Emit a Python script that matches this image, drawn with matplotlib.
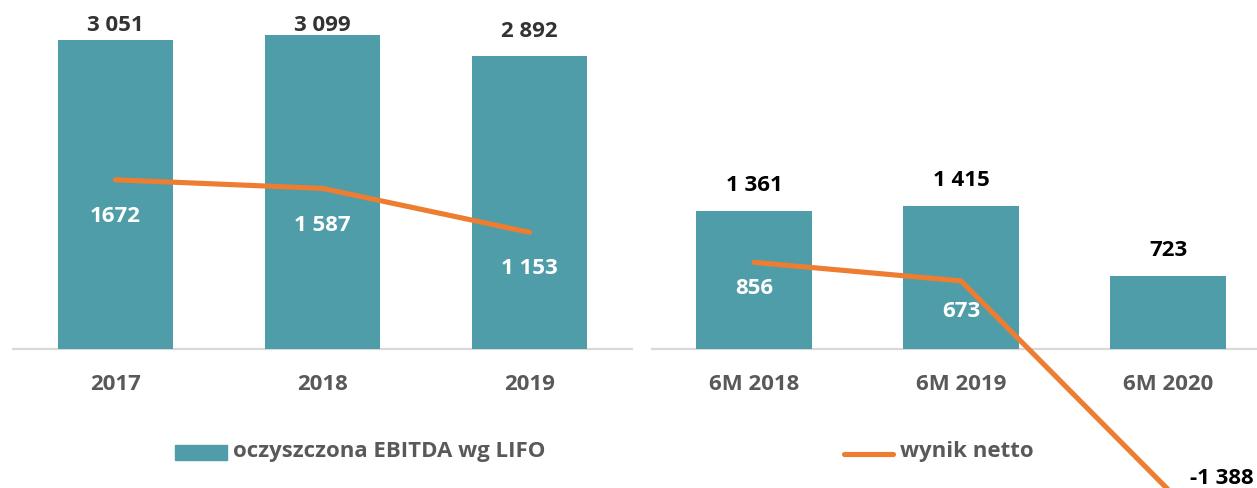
import matplotlib
matplotlib.use("Agg")
import matplotlib.pyplot as plt
from matplotlib.patches import Rectangle
from matplotlib.lines import Line2D

# ---------------- data ----------------
years = ["2017", "2018", "2019"]
ebitda_annual = [3051, 3099, 2892]
ebitda_annual_labels = ["3 051", "3 099", "2 892"]
net_annual = [1672, 1587, 1153]
net_annual_labels = ["1672", "1 587", "1 153"]

halves = ["6M 2018", "6M 2019", "6M 2020"]
ebitda_half = [1361, 1415, 723]
ebitda_half_labels = ["1 361", "1 415", "723"]
net_half = [856, 673, -1388]
net_half_labels = ["856", "673", "-1 388"]

legend_bar = "oczyszczona EBITDA wg LIFO"
legend_line = "wynik netto"

# ---------------- style ----------------
W, H = 1257, 488
BAR = "#4F9DA8"
ORANGE = "#ED7D31"
GRID = "#D9D9D9"
TICK = "#595959"
FONT = "Open Sans"
FS = 16
WEIGHT = "bold"

fig = plt.figure(figsize=(W / 100, H / 100), dpi=100)

scale = 0.1012  # px per unit
y_top = 349 / scale
y_bot = -(H - 349) / scale


def px(x, y):
    return x / W, 1 - y / H


def panel(left_px, cats, bars, bar_labels, line, line_labels, top_color,
          line_label_dy, special_last=False):
    ax = fig.add_axes([left_px / W, 0, 621 / W, 1])
    ax.set_xlim(-0.5, 2.5)
    ax.set_ylim(y_bot, y_top)
    ax.axis("off")
    xs = list(range(len(cats)))
    ax.bar(xs, bars, width=0.556, color=BAR, zorder=2)
    ax.axhline(0, color=GRID, lw=1.6, zorder=1)
    ax.plot(xs, line, color=ORANGE, lw=3.7, solid_capstyle="round",
            solid_joinstyle="round", zorder=3, clip_on=False)
    for x, v, t in zip(xs, bars, bar_labels):
        ax.text(x, min(v + 250, 3200), t, ha="center", va="center",
                fontsize=FS, fontweight=WEIGHT, family=FONT, color=top_color,
                zorder=4)
    for i, (x, v, t) in enumerate(zip(xs, line, line_labels)):
        if special_last and i == len(xs) - 1:
            ax.annotate(t, (x, v), xytext=(16, 8), textcoords="offset points",
                        ha="left", va="center", fontsize=FS,
                        fontweight=WEIGHT, family=FONT, color="#000000",
                        annotation_clip=False, zorder=4)
        else:
            ax.annotate(t, (x, v), xytext=(0, line_label_dy[i]),
                        textcoords="offset points", ha="center", va="center",
                        fontsize=FS, fontweight=WEIGHT, family=FONT,
                        color="white", zorder=4)
    for x, c in zip(xs, cats):
        ax.text(x, -(385 - 349) / scale, c, ha="center", va="center",
                fontsize=FS, fontweight=WEIGHT, family=FONT, color=TICK)
    return ax


panel(12, years, ebitda_annual, ebitda_annual_labels, net_annual,
      net_annual_labels, "#333333", [-26.5, -27, -26])
panel(650.5, halves, ebitda_half, ebitda_half_labels, net_half,
      net_half_labels, "#000000", [-19, -22, 0], special_last=True)

# legends (manual)
x0, y0 = px(175, 460)
x1, y1 = px(227, 445)
fig.patches.append(Rectangle((x0, y0), x1 - x0, y1 - y0, color=BAR,
                             transform=fig.transFigure, figure=fig))
tx, ty = px(233, 452)
fig.text(tx, ty, legend_bar, ha="left", va="center", fontsize=FS,
         fontweight=WEIGHT, family=FONT, color=TICK)

lx0, ly = px(844, 454)
lx1, _ = px(893, 454)
fig.lines.append(Line2D([lx0, lx1], [ly, ly], color=ORANGE, lw=3.7,
                        solid_capstyle="round", transform=fig.transFigure,
                        figure=fig))
tx, ty = px(900, 452)
fig.text(tx, ty, legend_line, ha="left", va="center", fontsize=FS,
         fontweight=WEIGHT, family=FONT, color=TICK)

fig.savefig("out.png", dpi=100)
